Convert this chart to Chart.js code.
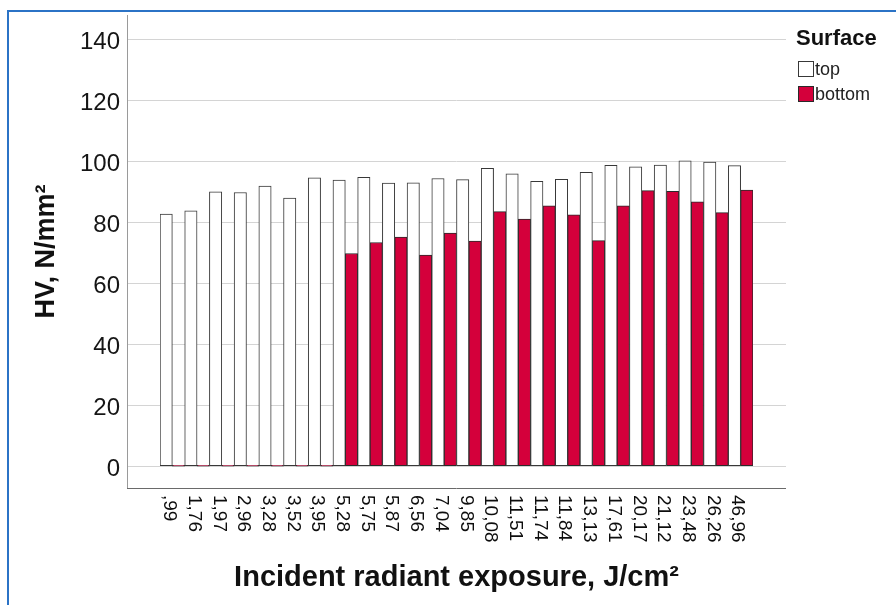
<!DOCTYPE html>
<html>
<head>
<meta charset="utf-8">
<title>HV by incident radiant exposure</title>
<script src="https://cdn.jsdelivr.net/npm/chart.js@4.4.1/dist/chart.umd.min.js"></script>
<style>
  html, body { margin: 0; padding: 0; background: #ffffff; }
  canvas { display: block; }
</style>
</head>
<body>
<canvas id="myChart" width="896" height="605"></canvas>
<script>
// values
const categories = [",99", "1,76", "1,97", "2,96", "3,28", "3,52", "3,95", "5,28",
  "5,75", "5,87", "6,56", "7,04", "9,85", "10,08", "11,51", "11,74", "11,84",
  "13,13", "17,61", "20,17", "21,12", "23,48", "26,26", "46,96"];
const topValues = [82.5, 83.6, 89.8, 89.6, 91.7, 87.8, 94.4, 93.7, 94.6, 92.7,
  92.8, 94.2, 93.8, 97.5, 95.7, 93.3, 93.9, 96.2, 98.5, 98.0, 98.6, 100.0, 99.6, 98.4];
const bottomValues = [0, 0, 0, 0, 0, 0, 0, 69.6, 73.2, 75.0, 69.1, 76.3, 73.7,
  83.3, 80.9, 85.2, 82.3, 73.8, 85.2, 90.2, 90.0, 86.5, 83.0, 90.4];
const yTicks = [0, 20, 40, 60, 80, 100, 120, 140];
const seriesNames = ["top", "bottom"];
const legendTitle = "Surface";

const FONT = "'Liberation Sans', Arial, Helvetica, sans-serif";
Chart.defaults.font.family = FONT;
Chart.defaults.color = "#111111";

// gridlines, axis lines and tick labels drawn wider than the bar area (SPSS look)
const axisDecor = {
  id: "axisDecor",
  beforeDatasetsDraw: (chart) => {
    const ctx = chart.ctx;
    const x = chart.scales.x;
    const y = chart.scales.y;
    const left = chart.chartArea.left - 33;
    const right = chart.chartArea.right + 33;
    ctx.save();
    ctx.lineWidth = 1;
    ctx.strokeStyle = "#d4d4d4";
    yTicks.forEach((v) => {
      const py = Math.round(y.getPixelForValue(v)) + 0.5;
      ctx.beginPath();
      ctx.moveTo(left, py);
      ctx.lineTo(right, py);
      ctx.stroke();
    });
    // y axis line
    ctx.strokeStyle = "#9a9a9a";
    ctx.beginPath();
    ctx.moveTo(left + 0.5, chart.chartArea.top);
    ctx.lineTo(left + 0.5, chart.chartArea.bottom + 1);
    ctx.stroke();
    // x axis line
    ctx.strokeStyle = "#6a6a6a";
    ctx.beginPath();
    ctx.moveTo(left, chart.chartArea.bottom + 0.5);
    ctx.lineTo(right, chart.chartArea.bottom + 0.5);
    ctx.stroke();

    // y tick labels
    ctx.fillStyle = "#151515";
    ctx.font = "24px " + FONT;
    ctx.textAlign = "right";
    ctx.textBaseline = "middle";
    yTicks.forEach((v) => {
      ctx.fillText(String(v), left - 7, y.getPixelForValue(v) + 3.5);
    });

    // x tick labels, turned clockwise
    ctx.fillStyle = "#0d0d0d";
    ctx.font = "19px " + FONT;
    ctx.textAlign = "left";
    categories.forEach((label, i) => {
      ctx.save();
      ctx.translate(x.getPixelForValue(i) - 3, chart.chartArea.bottom + 7);
      ctx.rotate(Math.PI / 2);
      ctx.fillText(label, 0, 0);
      ctx.restore();
    });
    ctx.restore();
  },
  afterDraw: (chart) => {
    const ctx = chart.ctx;
    ctx.save();
    // legend
    ctx.fillStyle = "#111111";
    ctx.textAlign = "left";
    ctx.textBaseline = "middle";
    ctx.font = "bold 22px " + FONT;
    ctx.fillText(legendTitle, 796, 39);
    ctx.font = "18px " + FONT;
    chart.data.datasets.forEach((ds, i) => {
      const cy = 69 + i * 25;
      ctx.fillStyle = ds.backgroundColor;
      ctx.fillRect(798, cy - 8, 16, 16);
      ctx.strokeStyle = ds.borderColor;
      ctx.lineWidth = 1;
      ctx.strokeRect(798.5, cy - 7.5, 15, 15);
      ctx.fillStyle = "#222222";
      ctx.fillText(ds.label, 815, cy + 1);
    });
    // blue frame of the exported picture
    ctx.strokeStyle = "#2b73c6";
    ctx.lineWidth = 2;
    ctx.beginPath();
    ctx.moveTo(8, chart.height);
    ctx.lineTo(8, 11);
    ctx.lineTo(chart.width, 11);
    ctx.stroke();
    ctx.restore();
  },
};

const ctx = document.getElementById("myChart");
new Chart(ctx, {
  type: "bar",
  data: {
    labels: categories,
    datasets: [
      {
        label: seriesNames[0],
        data: topValues,
        backgroundColor: "#ffffff",
        borderColor: "#383838",
        borderWidth: 1,
        borderSkipped: false,
        categoryPercentage: 1,
        barPercentage: 1,
      },
      {
        label: seriesNames[1],
        data: bottomValues,
        backgroundColor: "#d4003b",
        borderColor: "#2a2a2a",
        borderWidth: 1,
        borderSkipped: false,
        minBarLength: 1,
        categoryPercentage: 1,
        barPercentage: 1,
      },
    ],
  },
  options: {
    responsive: false,
    animation: false,
    layout: {
      padding: { top: 15, right: 143, bottom: 0, left: 0 },
    },
    scales: {
      x: {
        offset: true,
        grid: { display: false },
        border: { display: false },
        ticks: { display: false },
        title: {
          display: true,
          text: "Incident radiant exposure, J/cm²",
          color: "#111111",
          font: { size: 29, weight: "bold" },
          padding: { top: 0, bottom: 10 },
        },
        afterFit: (scale) => {
          scale.height = 117;
        },
      },
      y: {
        min: -7.3,
        max: 147.8,
        grid: { display: false },
        border: { display: false },
        ticks: { display: false },
        title: {
          display: true,
          text: "HV, N/mm²",
          color: "#111111",
          font: { size: 27, weight: "bold" },
          padding: { top: 30, bottom: 0 },
        },
        afterFit: (scale) => {
          scale.width = 160;
        },
      },
    },
    plugins: {
      legend: { display: false },
      tooltip: { enabled: false },
    },
  },
  plugins: [axisDecor],
});
</script>
</body>
</html>
